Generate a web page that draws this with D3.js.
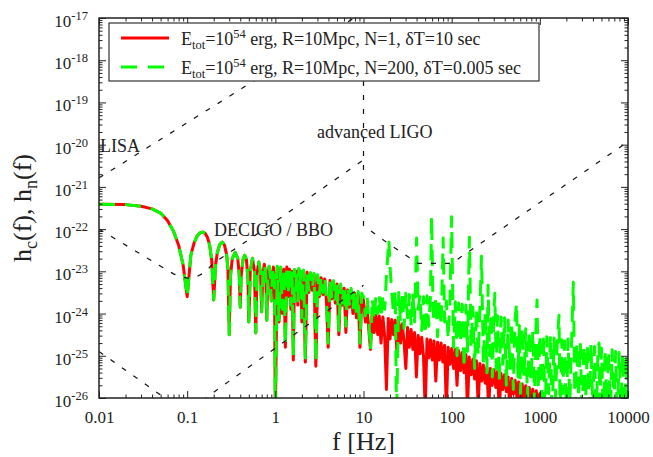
<!DOCTYPE html>
<meta charset="utf-8">
<style>
body { margin: 0; background: #fff; }
svg { font-family: "Liberation Serif", "DejaVu Serif", serif; }
.axis path { display: none; }
.axis line { stroke: #222; stroke-width: 1; }
.axis text { font-size: 17px; fill: #222; font-family: "Liberation Serif", serif; }
.det { fill: none; stroke: #111; stroke-width: 1.2; stroke-dasharray: 5,9; }
.lbl { font-size: 18px; fill: #222; }
</style>
<svg width="653" height="457"></svg>
<script src="https://d3js.org/d3.v7.min.js"></script>
<script>

// tick values
var xTicks = [0.01, 0.1, 1, 10, 100, 1000, 10000],
    xTickLabels = ["0.01", "0.1", "1", "10", "100", "1000", "10000"],
    yExponents = [-17, -18, -19, -20, -21, -22, -23, -24, -25, -26];

// spectra, as [f in Hz, log10 h]; both runs share the low frequency lobes
var lowLobes = [
  [0.01,-21.41],[0.02,-21.42],[0.03,-21.46],[0.04,-21.52],[0.05,-21.62],[0.06,-21.8],[0.07,-22.05],[0.08,-22.38],[0.09,-22.85],[0.1,-23.6],
  [0.11,-22.62],[0.12,-22.32],[0.13,-22.16],[0.14,-22.09],[0.15,-22.07],[0.16,-22.1],[0.17,-22.2],[0.18,-22.38],[0.19,-22.75],[0.2,-23.68],
  [0.21,-22.85],[0.22,-22.55],[0.235,-22.36],[0.25,-22.31],[0.265,-22.38],[0.28,-22.6],[0.29,-22.95],[0.3,-24.5],
  [0.31,-23.1],[0.325,-22.7],[0.35,-22.55],[0.375,-22.7],[0.39,-23.1],[0.4,-23.85],
  [0.41,-23.1],[0.43,-22.72],[0.45,-22.62],[0.47,-22.72],[0.49,-23.2],[0.5,-24.2],
  [0.52,-23.0],[0.55,-22.69],[0.58,-23.0],[0.6,-24.46],
  [0.62,-23.05],[0.65,-22.78],[0.68,-23.05],[0.7,-23.96],
  [0.72,-23.1],[0.75,-22.83],[0.78,-23.1],[0.8,-24.16],
  [0.82,-23.15],[0.85,-22.88],[0.88,-23.15],[0.9,-23.7],
  [0.92,-23.15],[0.95,-22.9],[0.98,-23.3]
];

// N=1, dT=10 sec
var redHigh = [
  [1.0,-26.5],[1.05,-22.9],[1.1,-24.2],[1.15,-22.92],[1.2,-24.0],[1.25,-22.95],[1.3,-24.8],[1.35,-22.9],[1.4,-23.6],[1.45,-22.95],
  [1.5,-23.9],[1.55,-23.0],[1.6,-25.1],[1.65,-22.98],[1.7,-23.5],[1.75,-23.0],[1.8,-23.8],[1.85,-22.95],[1.9,-23.4],[1.95,-23.05],
  [2.00,-24.2],[2.09,-23.0],[2.19,-25.15],[2.29,-23.02],[2.40,-23.5],[2.51,-23.05],[2.63,-23.45],[2.75,-23.08],[2.88,-25.25],[3.02,-23.12],
  [3.16,-23.6],[3.31,-23.15],[3.47,-23.55],[3.63,-23.18],[3.80,-23.7],[3.98,-24.8],[4.17,-23.22],[4.37,-23.65],[4.57,-23.28],[4.79,-23.75],
  [5.01,-23.3],[5.25,-24.5],[5.50,-23.36],[5.75,-23.8],[6.03,-23.4],[6.31,-24.45],[6.61,-23.44],[6.92,-23.85],[7.24,-23.48],[7.59,-24.0],
  [7.94,-23.52],[8.32,-24.1],[8.71,-23.56],[9.12,-24.8],[9.55,-23.62],
  [10.0,-23.68],[10.5,-24.2],[11.0,-23.85],[11.5,-24.4],[12.0,-24.85],[12.6,-23.97],[13.2,-24.45],[13.8,-24.04],[14.5,-24.5],[15.1,-24.06],
  [15.8,-24.7],[16.6,-24.08],[17.4,-24.55],[18.2,-25.8],[19.1,-24.12],[20.0,-24.6],[20.9,-24.14],[21.9,-24.5],[22.9,-24.16],[24.0,-24.95],
  [25.1,-24.2],[26.3,-24.7],[27.5,-24.25],[28.8,-24.65],[30.2,-25.3],[31.6,-24.33],[33.1,-24.8],[34.7,-24.38],[36.3,-24.85],[38.0,-24.45],
  [39.8,-25.5],[41.7,-24.52],[43.7,-24.95],[45.7,-24.56],[47.9,-25.0],[50.1,-26.3],[52.5,-24.6],[55.0,-25.05],[57.5,-24.62],[60.3,-25.1],
  [63.1,-24.65],[66.1,-25.6],[69.2,-24.68],[72.4,-25.1],[75.9,-24.7],[79.4,-25.15],[83.2,-24.75],[87.1,-26.3],[91.2,-24.8],[95.5,-25.2],
  [100,-24.83],[105,-25.3],[110,-24.85],[115,-25.7],[120,-24.88],[126,-25.35],[132,-24.92],[138,-25.4],[145,-24.97],[151,-26.3],
  [158,-25.03],[166,-25.45],[174,-25.08],[182,-25.55],[191,-25.12],[200,-26.2],[209,-25.18],[219,-25.6],[229,-25.22],[240,-25.65],
  [251,-25.27],[263,-26.3],[275,-25.3],[288,-25.7],[302,-25.33],[316,-25.75],[331,-25.37],[347,-26.3],[363,-25.42],[380,-25.8],
  [398,-25.45],[417,-25.85],[437,-25.5],[457,-26.3],[479,-25.54],[501,-25.9],[525,-25.58],[550,-26.0],[575,-25.62],[603,-26.3],
  [631,-25.67],[661,-26.05],[692,-25.71],[724,-26.1],[759,-25.75],[794,-26.3],[832,-25.79],[871,-26.15],[912,-25.83],[955,-26.2],
  [1000,-25.9],[1050,-26.3],[1150,-26.1],[1300,-26.5],[10000,-27]
];

// N=200, dT=0.005 sec
var greenHigh = [
  [1.0,-26.5],[1.05,-22.88],[1.1,-24.15],[1.15,-22.9],[1.2,-23.9],[1.25,-22.93],[1.3,-24.75],[1.35,-22.88],[1.4,-23.55],[1.45,-22.92],
  [1.5,-23.8],[1.55,-22.97],[1.6,-25.0],[1.65,-22.95],[1.7,-23.45],[1.75,-22.98],[1.8,-23.7],[1.85,-22.93],[1.9,-23.35],[1.95,-23.0],
  [2.00,-24.1],[2.09,-22.97],[2.19,-25.05],[2.29,-23.0],[2.40,-23.45],[2.51,-23.03],[2.63,-23.4],[2.75,-23.05],[2.88,-25.15],[3.02,-23.08],
  [3.16,-23.55],[3.31,-23.12],[3.47,-23.5],[3.63,-23.15],[3.80,-23.65],[3.98,-24.7],[4.17,-23.18],[4.37,-23.6],[4.57,-23.22],[4.79,-23.7],
  [5.01,-23.25],[5.25,-24.4],[5.50,-23.3],[5.75,-23.75],[6.03,-23.33],[6.31,-24.3],[6.61,-23.37],[6.92,-23.78],[7.24,-23.4],[7.59,-23.9],
  [7.94,-23.44],[8.32,-24.0],[8.71,-23.48],[9.12,-24.7],[9.55,-23.52],
  [10.0,-23.6],[10.5,-24.05],[11.0,-23.62],[11.5,-24.2],[12.0,-24.85],[12.6,-23.65],[13.2,-24.15],[13.8,-23.6],[14.5,-24.0],[15.1,-23.58],
  [15.8,-24.1],[16.6,-23.55],[17.4,-23.9],[18.2,-23.1],[19.4,-22.26],[20.0,-22.9],[20.9,-23.5],[21.9,-24.0],[22.9,-23.45],[23.7,-26.5],
  [25.1,-23.5],[26.3,-24.2],[27.5,-23.48],[28.8,-24.35],[30.2,-23.52],[31.6,-24.1],[33.1,-23.55],[34.7,-24.3],[36.3,-23.5],[38.0,-24.2],
  [40.0,-22.21],[41.7,-23.9],[43.7,-23.55],[45.7,-24.4],[47.9,-23.6],[50.1,-24.5],[52.5,-23.58],[55.0,-24.3],[57.5,-23.6],[59.2,-21.69],
  [61.5,-23.9],[63.1,-24.2],[66.1,-23.6],[69.2,-24.55],[72.4,-23.65],[75.9,-24.3],[80.1,-22.21],[83.2,-24.2],[87.1,-23.7],[91.2,-24.6],
  [95.5,-23.75],[99.8,-21.71],[105,-24.8],[110,-23.72],[115,-25.0],[120,-23.75],[126,-24.7],[132,-23.78],[138,-25.3],[145,-23.8],
  [151,-24.9],[159,-22.19],[166,-24.8],[174,-23.85],[182,-25.3],[191,-23.88],[200,-25.0],[209,-23.9],[218,-22.64],[229,-25.2],
  [240,-23.95],[251,-25.4],[259,-23.33],[269,-25.0],[280,-23.98],[290,-25.5],[300,-24.02],[309,-23.52],[320,-25.3],[331,-24.05],
  [347,-25.6],[363,-24.08],[380,-25.2],[398,-24.1],[417,-25.7],[437,-24.15],[457,-25.3],[479,-24.2],[501,-25.8],[520,-24.22],
  [545,-23.75],[565,-25.5],[585,-24.28],[603,-25.9],[631,-24.32],[661,-25.5],[692,-24.36],[724,-26.0],[759,-24.4],[794,-25.6],
  [832,-24.42],[871,-26.1],[900,-24.45],[930,-23.68],[960,-25.8],
  [1000,-24.5],[1050,-26.0],[1100,-24.48],[1150,-26.5],[1200,-24.55],[1260,-25.9],[1320,-24.5],[1380,-26.5],[1450,-24.58],[1510,-26.0],
  [1580,-24.6],[1650,-24.04],[1700,-26.4],[1780,-24.62],[1820,-25.9],[1910,-24.65],[2000,-26.5],[2090,-24.6],[2190,-26.1],[2290,-24.68],
  [2400,-23.26],[2510,-26.5],[2630,-24.7],[2750,-26.0],[2880,-24.68],[3020,-26.5],[3160,-24.72],[3310,-26.0],[3470,-24.75],[3630,-26.5],
  [3800,-24.72],[3980,-26.2],[4170,-24.78],[4370,-26.5],[4570,-24.8],[4700,-24.7],[4790,-26.1],[5010,-24.82],[5250,-26.5],[5500,-24.85],
  [5750,-26.1],[6030,-24.88],[6310,-26.5],[6610,-24.86],[6920,-26.2],[7240,-24.9],[7590,-26.5],[7940,-24.92],[8320,-26.2],[8710,-24.95],
  [9120,-26.5],[9550,-25.0],[10000,-26.6]
];

// detector noise curves, [f, log10 h]
var lisa = [[0.01,-20.79],[10,-16.86]];
var decigo = [[0.01,-22.0],[0.03,-22.6],[0.05,-22.88],[0.07,-23.06],[0.085,-23.13],[0.107,-23.17],[0.13,-23.12],[0.16,-23.02],
              [0.2,-22.8],[0.28,-22.6],[0.5,-22.25],[1,-21.82],[3,-21.12],[10,-20.36]];
var bbo = [[0.01,-24.9],[0.03,-25.6],[0.06,-26.05],[0.1,-26.3],[0.13,-26.25],[0.167,-25.98],[0.3,-25.6],[1,-24.82],[3,-24.1],[10,-23.33]];
var ligo = [[10,-16.5],[10,-21.92],[20,-22.37],[41.4,-22.81],[100,-22.81],[10000,-19.93]];

var svg = d3.select("svg"),
    margin = {top: 18, right: 25, bottom: 59, left: 99},
    width = +svg.attr("width") - margin.left - margin.right,
    height = +svg.attr("height") - margin.top - margin.bottom;

var x = d3.scaleLog().domain([0.01, 10000]).range([0, width]),
    y = d3.scaleLog().domain([1e-26, 1e-17]).range([height, 0]);

var g = svg.append("g")
    .attr("transform", "translate(" + margin.left + "," + margin.top + ")");

svg.append("clipPath").attr("id", "plotclip")
  .append("rect").attr("width", width).attr("height", height);

var line = d3.line()
    .x(function(d) { return x(d[0]); })
    .y(function(d) { return y(Math.pow(10, d[1])); });

var plot = g.append("g").attr("clip-path", "url(#plotclip)");

plot.append("path")
    .datum(lowLobes.concat(redHigh))
    .attr("fill", "none")
    .attr("stroke", "#ff0000")
    .attr("stroke-width", 3)
    .attr("stroke-linejoin", "round")
    .attr("d", line);

plot.append("path")
    .datum(lowLobes.concat(greenHigh))
    .attr("fill", "none")
    .attr("stroke", "#00ff00")
    .attr("stroke-width", 3)
    .attr("stroke-linejoin", "round")
    .attr("stroke-dasharray", "16,10")
    .attr("d", line);

[lisa, decigo, bbo, ligo].forEach(function(c) {
  plot.append("path").datum(c).attr("class", "det").attr("d", line);
});

// minor tick positions
var xMinor = [], yMinor = [];
xTicks.slice(0, -1).forEach(function(t) {
  for (var m = 2; m < 10; m++) xMinor.push(t * m);
});
yExponents.slice(1).forEach(function(e) {
  for (var m = 2; m < 10; m++) yMinor.push(m * Math.pow(10, e));
});
var yMajor = yExponents.map(function(e) { return Math.pow(10, e); });

// bottom
g.append("g").attr("class", "axis").attr("transform", "translate(0," + height + ")")
    .call(d3.axisBottom(x).tickValues(xTicks).tickSize(-7).tickPadding(13)
      .tickFormat(function(d, i) { return xTickLabels[i]; }));
g.append("g").attr("class", "axis").attr("transform", "translate(0," + height + ")")
    .call(d3.axisBottom(x).tickValues(xMinor).tickSize(-3.5).tickFormat(""));
// top
g.append("g").attr("class", "axis")
    .call(d3.axisTop(x).tickValues(xTicks).tickSize(-7).tickFormat(""));
g.append("g").attr("class", "axis")
    .call(d3.axisTop(x).tickValues(xMinor).tickSize(-3.5).tickFormat(""));
// left
var yl = g.append("g").attr("class", "axis")
    .call(d3.axisLeft(y).tickValues(yMajor).tickSize(-7).tickPadding(11)
      .tickFormat(function() { return "10"; }));
yl.selectAll(".tick text").attr("dy", "0.5em").each(function(d) {
  d3.select(this).append("tspan")
    .attr("dy", -7)
    .attr("font-size", 12.5)
    .text(Math.round(Math.log10(d)));
});
g.append("g").attr("class", "axis")
    .call(d3.axisLeft(y).tickValues(yMinor).tickSize(-3.5).tickFormat(""));
// right
g.append("g").attr("class", "axis").attr("transform", "translate(" + width + ",0)")
    .call(d3.axisRight(y).tickValues(yMajor).tickSize(-7).tickFormat(""));
g.append("g").attr("class", "axis").attr("transform", "translate(" + width + ",0)")
    .call(d3.axisRight(y).tickValues(yMinor).tickSize(-3.5).tickFormat(""));

// detector labels
g.append("text").attr("class", "lbl").attr("x", 1).attr("y", 134).text("LISA");
g.append("text").attr("class", "lbl").attr("x", 218).attr("y", 120).text("advanced LIGO");
g.append("text").attr("class", "lbl").attr("x", 115).attr("y", 218).text("DECIGO / BBO");

// legend
var lg = g.append("g").attr("transform", "translate(10,5)");
lg.append("rect").attr("width", 430).attr("height", 58)
    .attr("fill", "#fff").attr("stroke", "#333").attr("stroke-width", 1.2);
lg.append("line").attr("x1", 12).attr("x2", 60).attr("y1", 15).attr("y2", 15)
    .attr("stroke", "#ff0000").attr("stroke-width", 3);
lg.append("line").attr("x1", 12).attr("x2", 60).attr("y1", 44).attr("y2", 44)
    .attr("stroke", "#00ff00").attr("stroke-width", 3).attr("stroke-dasharray", "16,11");

var legendRest = [" erg, R=10Mpc, N=1, \u03b4T=10 sec", " erg, R=10Mpc, N=200, \u03b4T=0.005 sec"];
legendRest.forEach(function(rest, i) {
  var t = lg.append("text").attr("x", 72).attr("y", 21.5 + i * 29)
      .attr("font-size", 18).attr("fill", "#222").style("white-space", "pre");
  t.append("tspan").text("E");
  t.append("tspan").attr("font-size", 12.5).attr("dy", 4).text("tot");
  t.append("tspan").attr("dy", -4).text("=10");
  t.append("tspan").attr("font-size", 12.5).attr("dy", -7).text("54");
  t.append("tspan").attr("dy", 7).text(rest);
});

// frame
g.append("rect").attr("width", width).attr("height", height)
    .attr("fill", "none").attr("stroke", "#222").attr("stroke-width", 1.5);

// axis titles
svg.append("text")
    .attr("x", margin.left + width / 2).attr("y", 450)
    .attr("text-anchor", "middle").attr("font-size", 26).attr("fill", "#222")
    .text("f [Hz]");

var yt = svg.append("text")
    .attr("transform", "translate(31," + (margin.top + height / 2) + ") rotate(-90)")
    .attr("text-anchor", "middle").attr("font-size", 26).attr("fill", "#222");
yt.append("tspan").text("h");
yt.append("tspan").attr("font-size", 18).attr("dy", 6).text("c");
yt.append("tspan").attr("dy", -6).text("(f), h");
yt.append("tspan").attr("font-size", 18).attr("dy", 6).text("n");
yt.append("tspan").attr("dy", -6).text("(f)");

</script>
